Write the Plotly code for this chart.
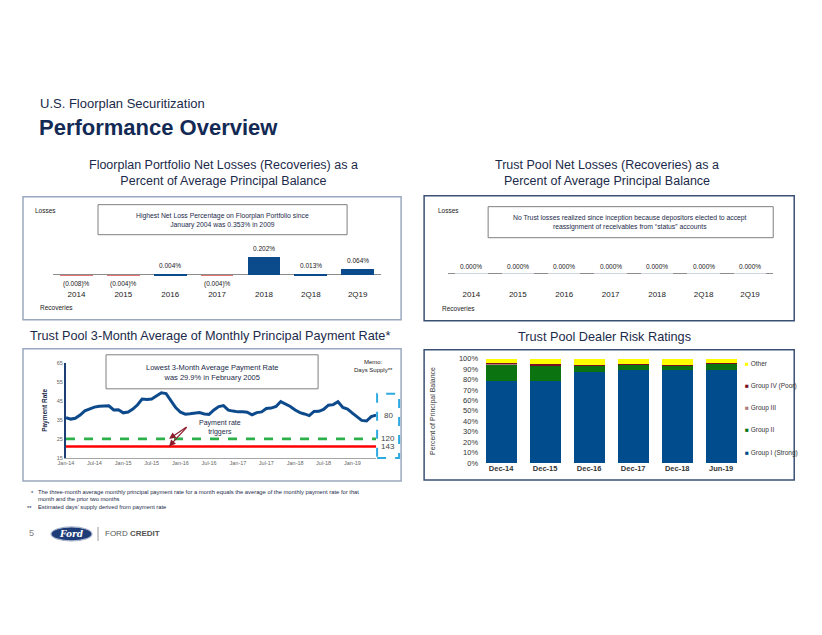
import plotly.graph_objects as go
import pandas as pd

W, H = 822, 635
FONT = "Arial, Liberation Sans, sans-serif"
NAVY = "#1b2a4a"

# Small correction measured from previous renders so that positions land on
# the reference pixel positions in the photographed page.
SX, OX = 0.99, 8.0
SY, OY = 0.985, 3.5


def px(x):
    return ((x - OX) / SX) / W


def py(y):
    return 1 - ((y - OY) / SY) / H


# ---------------- data ----------------
loss_categories = ["2014", "2015", "2016", "2017", "2018", "2Q18", "2Q19"]
floorplan_net_loss_pct = [-0.008, -0.004, 0.004, -0.004, 0.202, 0.013, 0.064]
trust_net_loss_pct = [0.0, 0.0, 0.0, 0.0, 0.0, 0.0, 0.0]

rate_start = "2014-01-01"
payment_rate_pct = [
    36.2, 35.4, 35.8, 37.5, 39.7, 40.9, 41.7, 42.2, 42.5, 42.4, 40.2, 40.3,
    38.7, 39.1, 40.5, 42.8, 45.9, 45.7, 46.0, 47.6, 49.2, 48.8, 44.9, 41.5,
    39.0, 38.0, 38.2, 38.5, 38.8, 38.1, 37.9, 40.2, 42.0, 42.5, 40.1, 39.6,
    39.2, 39.2, 39.0, 37.6, 38.8, 39.2, 41.0, 41.2, 42.0, 44.6, 43.3, 42.0,
    40.2, 38.8, 38.1, 37.2, 39.4, 39.5, 40.5, 42.7, 43.0, 44.5, 41.5, 40.7,
    38.5, 36.5, 34.7, 34.4, 36.7, 37.5,
]
trigger_rate_pct = [25.0, 21.0]
trigger_days_supply = [120, 143]
current_days_supply = 80

risk_periods = ["Dec-14", "Dec-15", "Dec-16", "Dec-17", "Dec-18", "Jun-19"]
group_i_strong = [78.2, 79.0, 87.6, 89.0, 89.0, 89.3]
group_ii = [16.7, 14.6, 6.4, 5.8, 4.8, 5.9]
group_iii = [0.3, 0.6, 0.2, 0.1, 0.2, 0.1]
group_iv_poor = [0.5, 0.8, 0.2, 0.2, 0.3, 0.2]
other = [4.3, 5.0, 5.6, 4.9, 5.7, 4.5]

rate_months = pd.date_range(rate_start, periods=len(payment_rate_pct), freq="MS")


def fmt_pct(v):
    return f"({abs(v):.3f})%" if v < 0 else f"{v:.3f}%"


fig = go.Figure()

# ---------- chart 1 : floorplan net losses ----------
fig.add_trace(go.Bar(
    x=loss_categories, y=floorplan_net_loss_pct, xaxis="x", yaxis="y",
    marker=dict(color=["#e57373" if v < 0 else "#0b4a8b" for v in floorplan_net_loss_pct],
                line=dict(width=0)),
    showlegend=False, hoverinfo="skip",
))

# ---------- chart 2 : trust net losses ----------
fig.add_trace(go.Bar(
    x=loss_categories, y=trust_net_loss_pct, xaxis="x2", yaxis="y2",
    marker=dict(color="#0b4a8b"), showlegend=False, hoverinfo="skip",
))

# ---------- chart 3 : payment rate ----------
for rate, color, dash in zip(trigger_rate_pct, ["#2bb04a", "#ff0000"], ["dash", "solid"]):
    fig.add_trace(go.Scatter(
        x=[rate_months[0], rate_months[-1]], y=[rate, rate], xaxis="x3", yaxis="y3",
        mode="lines", line=dict(color=color, width=2.6, dash=dash),
        showlegend=False, hoverinfo="skip",
    ))
fig.add_trace(go.Scatter(
    x=rate_months, y=payment_rate_pct, xaxis="x3", yaxis="y3",
    mode="lines", line=dict(color="#0d4a8c", width=3),
    showlegend=False, hoverinfo="skip",
))

# ---------- chart 4 : dealer risk ratings ----------
series = [
    ("Group I (Strong)", group_i_strong, "#004c8c"),
    ("Group II", group_ii, "#0b730f"),
    ("Group III", group_iii, "#b07a7a"),
    ("Group IV (Poor)", group_iv_poor, "#7b1023"),
    ("Other", other, "#ffff00"),
]
for name, vals, color in series:
    fig.add_trace(go.Bar(
        x=risk_periods, y=vals, name=name, xaxis="x4", yaxis="y4",
        marker=dict(color=color, line=dict(width=0)),
        showlegend=False, hoverinfo="skip",
    ))

# ---------- layout ----------
axis_common = dict(showgrid=False, zeroline=False, fixedrange=True)
ncat = len(loss_categories)
fig.update_layout(
    width=W, height=H, autosize=False,
    margin=dict(l=0, r=0, t=0, b=0),
    paper_bgcolor="white", plot_bgcolor="rgba(0,0,0,0)",
    font=dict(family=FONT, color=NAVY),
    barmode="stack", bargap=0.3, showlegend=False,
    xaxis=dict(type="category", domain=[px(53), px(381)], anchor="y", showline=False, ticks="",
               range=[-0.5, ncat - 0.5],
               tickfont=dict(size=8, color="#222222"), showgrid=False, fixedrange=True),
    yaxis=dict(domain=[py(287), py(240)], anchor="x", range=[-13 / 89.0, 34 / 89.0],
               showticklabels=False, showgrid=False, zeroline=True,
               zerolinecolor="#8c8c8c", zerolinewidth=1, fixedrange=True),
    xaxis2=dict(type="category", domain=[px(448), px(773)], anchor="y2", showline=False, ticks="",
                range=[-0.5, ncat - 0.5],
                tickfont=dict(size=8, color="#222222"), showgrid=False, fixedrange=True),
    yaxis2=dict(domain=[py(287), py(240)], anchor="x2", range=[-14 / 89.0, 33 / 89.0],
                showticklabels=False, showgrid=False, zeroline=True,
                zerolinecolor="#8c8c8c", zerolinewidth=1, fixedrange=True),
    xaxis3=dict(domain=[px(66), px(376)], anchor="y3",
                range=[rate_months[0], rate_months[-1]],
                tickformat="%b-%y", dtick="M6", tick0=rate_start,
                showline=True, linecolor="#a6a6a6", linewidth=1, ticks="",
                tickfont=dict(size=5.5, color="#666666"), **axis_common),
    yaxis3=dict(domain=[py(457), py(362)], anchor="x3", range=[15, 65],
                tickvals=[15, 25, 35, 45, 55, 65], ticksuffix="%",
                showline=True, linecolor="#1c3f73", linewidth=2, ticks="",
                tickfont=dict(size=5.5, color="#666666"), **axis_common),
    xaxis4=dict(domain=[px(479), px(743)], anchor="y4", showline=False, ticks="",
                tickfont=dict(size=7.5, color="#333333", weight="bold"), **axis_common),
    yaxis4=dict(domain=[py(462), py(358)], anchor="x4", range=[0, 100], dtick=10,
                ticksuffix="%", showline=False, ticks="",
                tickfont=dict(size=7.5, color="#333333"), **axis_common),
)

shapes = []
annotations = []


def box(x0, y0, x1, y1, color, width=1.2, dash="solid"):
    shapes.append(dict(type="rect", xref="paper", yref="paper",
                       x0=px(x0), x1=px(x1), y0=py(y1), y1=py(y0),
                       line=dict(color=color, width=width, dash=dash), layer="below"))


def text(x, y, s, size, color=NAVY, xanchor="center", weight=None, angle=0):
    f = dict(size=size, color=color, family=FONT)
    if weight:
        f["weight"] = weight
    annotations.append(dict(
        x=px(x), y=py(y), xref="paper", yref="paper", text=s, showarrow=False,
        xanchor=xanchor, yanchor="middle", font=f, textangle=angle, align="center"))


# value labels of the two loss charts (x given as category index)
for xa, ya, vals, pos_shift in [("x", "y", floorplan_net_loss_pct, 3), ("x2", "y2", trust_net_loss_pct, 2)]:
    for i, v in enumerate(vals):
        annotations.append(dict(
            x=i, y=v, xref=xa, yref=ya, text=fmt_pct(v), showarrow=False,
            xanchor="center", yanchor="top" if v < 0 else "bottom",
            yshift=-3 if v < 0 else pos_shift,
            font=dict(size=6.5, color="#222222", family=FONT)))

# header
text(38, 103, "U.S. Floorplan Securitization", 13, xanchor="left")
text(37, 127, "Performance Overview", 22, color="#132a55", xanchor="left", weight="bold")
text(223, 172, "Floorplan Portfolio Net Losses (Recoveries) as a<br>Percent of Average Principal Balance", 12.5)
text(607, 172, "Trust Pool Net Losses (Recoveries) as a<br>Percent of Average Principal Balance", 12.5)
text(28, 335, "Trust Pool 3-Month Average of Monthly Principal Payment Rate*", 12.7, xanchor="left")
text(604, 336, "Trust Pool Dealer Risk Ratings", 12.7)

# chart frames
box(23, 196, 401, 319, "#9aa8bf", 1.5)
box(424, 195, 794, 320, "#3b5075", 1.5)
box(23, 348, 401, 480, "#9aa8bf", 1.5)
box(424, 349, 794, 479, "#3b5075", 1.5)

# chart 1 texts
text(33, 210, "Losses", 6.5, color="#222222", xanchor="left")
text(38, 307, "Recoveries", 6.5, color="#222222", xanchor="left")
box(98, 204, 347, 234, "#7f7f7f", 1)
text(222, 219.5, "Highest Net Loss Percentage on Floorplan Portfolio since<br>January 2004 was 0.353% in 2009", 6.8)

# chart 2 texts
text(436, 210, "Losses", 6.5, color="#222222", xanchor="left")
text(440, 308, "Recoveries", 6.5, color="#222222", xanchor="left")
box(488, 206, 773, 237, "#7f7f7f", 1)
text(630, 222, "No Trust losses realized since inception because depositors elected to accept<br>reassignment of receivables from \u201cstatus\u201d accounts", 6.8)

# chart 3 texts
box(106, 354, 318, 388, "#7f7f7f", 1)
text(212, 372, "Lowest 3-Month Average Payment Rate<br>was 29.9% in February 2005", 7.5)
text(395, 365.5, "Memo:<br>Days Supply**", 6, color="#222222", xanchor="right")
text(45, 410, "Payment Rate", 6.5, color=NAVY, weight="bold", angle=-90)
text(220, 427, "Payment rate<br>triggers", 7, color="#1b2a4a")
for rate in trigger_rate_pct:
    annotations.append(dict(x=px(169), y=rate, xref="paper", yref="y3", text="",
                            showarrow=True, ax=19, ay=425 - (457 - (rate - 15) * 1.9),
                            arrowhead=2, arrowsize=1.1, arrowwidth=1.2, arrowcolor="#8b1c2c"))
box(377, 393, 399, 457, "#2eaae1", 2, "dash")
for val, days in zip([payment_rate_pct[-1]] + trigger_rate_pct, [current_days_supply] + trigger_days_supply):
    annotations.append(dict(x=px(388), y=val, xref="paper", yref="y3", text=str(days),
                            showarrow=False, xanchor="center", yanchor="middle",
                            font=dict(size=8, color="#444444", family=FONT)))

# chart 4 texts
text(433, 410, "Percent of Principal Balance", 7, color="#333333", angle=-90)
legend_rows = [363, 385, 407, 429, 452]
for (name, vals, color), yrow in zip(reversed(series), legend_rows):
    text(743, yrow, f"<span style='color:{color}'>\u25A0</span> {name}", 6.5,
         color="#333333", xanchor="left")

# footnotes
text(29, 492, "*", 5.8, xanchor="left")
text(36, 491, "The three-month average monthly principal payment rate for a month equals the average of the monthly payment rate for that", 5.8, xanchor="left")
text(36, 498.5, "month and the prior two months", 5.8, xanchor="left")
text(25, 507, "**", 5.8, xanchor="left")
text(36, 506, "Estimated days\u2019 supply derived from payment rate", 5.8, xanchor="left")

# page footer
text(31, 532, "5", 9, color="#808080")
shapes.append(dict(type="circle", xref="paper", yref="paper", x0=px(51), x1=px(92),
                   y0=py(540), y1=py(526), fillcolor="#1d3c78",
                   line=dict(color="#aab6cc", width=1.2)))
text(71.5, 533, "<i>Ford</i>", 9, color="white", weight="bold")
annotations[-1]["font"]["family"] = "DejaVu Serif, serif"
shapes.append(dict(type="line", xref="paper", yref="paper", x0=px(98), x1=px(98),
                   y0=py(540), y1=py(526), line=dict(color="#9a9a9a", width=1)))
text(103, 533, "FORD <b>CREDIT</b>", 8, color="#555555", xanchor="left")

fig.update_layout(shapes=shapes, annotations=annotations)

# let the figure fill the window exactly (no default body margin / scrollbars)
page_fit = (
    "document.body.style.margin='0';"
    "document.body.style.padding='0';"
    "document.documentElement.style.overflow='hidden';"
)
fig.write_html("out.html", post_script=page_fit, config={"displayModeBar": False})
